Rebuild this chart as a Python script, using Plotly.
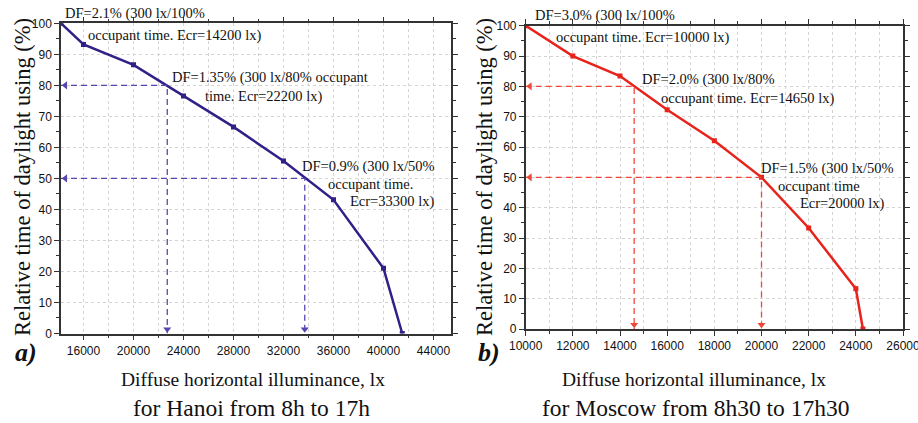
import plotly.graph_objects as go

W, H = 918, 423

# ---- data: Hanoi (a) ----
hanoi_x = [14200, 16000, 20000, 24000, 28000, 32000, 36000, 40000, 41500]
hanoi_y = [100, 93.2, 86.6, 76.6, 66.6, 55.6, 43.1, 21.0, 0]
hanoi_guide_x = [22700, 33700]
hanoi_guide_y = [80, 50]
hanoi_xrange = [14200, 45400]

# ---- data: Moscow (b) ----
moscow_x = [10000, 12000, 14000, 16000, 18000, 20000, 22000, 24000, 24300]
moscow_y = [100, 90, 83.4, 72.3, 62.1, 50, 33.3, 13.3, 0]
moscow_guide_x = [14600, 20000]
moscow_guide_y = [80, 50]
moscow_xrange = [10000, 26000]

yrange = [0, 100]

hanoi_notes = [
    ("DF=2.1% (300 lx/100%", 14344, 103.3),
    ("occupant time. Ecr=14200 lx)", 16160, 96.2),
    ("DF=1.35% (300 lx/80% occupant", 22904, 82.4),
    ("time. Ecr=22200 lx)", 25520, 76.3),
    ("DF=0.9% (300 lx/50%", 33304, 53.8),
    ("occupant time.", 35360, 48.2),
    ("Ecr=33300 lx)", 37120, 42.5),
]
moscow_notes = [
    ("DF=3.0% (300 lx/100%", 10297, 103.5),
    ("occupant time. Ecr=10000 lx)", 11215, 96.0),
    ("DF=2.0% (300 lx/80%", 14856, 82.1),
    ("occupant time. Ecr=14650 lx)", 15663, 76.1),
    ("DF=1.5% (300 lx/50%", 19911, 53.0),
    ("occupant time", 20633, 47.2),
    ("Ecr=20000 lx)", 21555, 41.4),
]

C_H = "#302088"
C_H_D = "#5646AE"
C_M = "#E8231B"
C_M_D = "#F0463A"

fig = go.Figure()


def add_panel(xs, ys, gx, gy, xr, col, dcol, xa, ya):
    fig.add_trace(go.Scatter(x=xs, y=ys, mode="lines+markers", xaxis=xa, yaxis=ya,
                             line=dict(color=col, width=2.5),
                             marker=dict(symbol="square", size=5, color=col),
                             showlegend=False))
    xoff = (xr[1] - xr[0]) * 0.011
    yoff = (yrange[1] - yrange[0]) * 0.014
    for x, y in zip(gx, gy):
        fig.add_trace(go.Scatter(x=[xr[0], x, x], y=[y, y, yrange[0]], mode="lines",
                                 xaxis=xa, yaxis=ya,
                                 line=dict(color=dcol, width=1.3, dash="6px,4px"),
                                 showlegend=False))
        fig.add_trace(go.Scatter(x=[xr[0] + xoff], y=[y], mode="markers", xaxis=xa, yaxis=ya,
                                 marker=dict(symbol="triangle-left", size=7, color=dcol),
                                 showlegend=False, cliponaxis=False))
        fig.add_trace(go.Scatter(x=[x], y=[yrange[0] + yoff], mode="markers", xaxis=xa, yaxis=ya,
                                 marker=dict(symbol="triangle-down", size=7, color=dcol),
                                 showlegend=False, cliponaxis=False))


add_panel(hanoi_x, hanoi_y, hanoi_guide_x, hanoi_guide_y, hanoi_xrange, C_H, C_H_D, "x", "y")
add_panel(moscow_x, moscow_y, moscow_guide_x, moscow_guide_y, moscow_xrange, C_M, C_M_D, "x2", "y2")

AX = "#333333"
GRID = "#d4d4d4"
tickfont = dict(family="Liberation Sans, Arial", size=12, color="#111")


def xaxis(rng, dom, anchor, tick0, dtick, mdtick):
    return dict(range=rng, domain=dom, anchor=anchor, showline=True, linecolor=AX, linewidth=1.5,
                mirror="allticks", ticks="outside", ticklen=5, tickwidth=1.3, tickcolor=AX,
                tick0=tick0, dtick=dtick, tickformat="d", showgrid=True, gridcolor=GRID,
                griddash="dot", gridwidth=1, zeroline=False, tickfont=tickfont, automargin=False,
                ticklabeloverflow="allow",
                minor=dict(dtick=mdtick, ticks="outside", ticklen=3, tickcolor=AX, tickwidth=1.2,
                           showgrid=True, gridcolor=GRID, griddash="dot", gridwidth=1))


def yaxis(dom, anchor):
    return dict(range=yrange, domain=dom, anchor=anchor, showline=True, linecolor=AX, linewidth=1.5,
                mirror="allticks", ticks="outside", ticklen=5, tickwidth=1.3, tickcolor=AX,
                tick0=0, dtick=10, showgrid=True, gridcolor=GRID, griddash="dot", gridwidth=1,
                zeroline=False, tickfont=tickfont, automargin=False, ticklabeloverflow="allow",
                minor=dict(dtick=5, ticks="outside", ticklen=3, tickcolor=AX, tickwidth=1.2,
                           showgrid=False))


fig.update_layout(
    width=W, height=H, margin=dict(l=0, r=0, t=0, b=0, autoexpand=False),
    paper_bgcolor="white", plot_bgcolor="white",
    xaxis=xaxis(hanoi_xrange, [61 / W, 451 / W], "y", 16000, 4000, 2000),
    yaxis=yaxis([1 - 333.5 / H, 1 - 23.3 / H], "x"),
    xaxis2=xaxis(moscow_xrange, [525.7 / W, 903 / W], "y2", 10000, 2000, 1000),
    yaxis2=yaxis([1 - 329 / H, 1 - 25.7 / H], "x2"),
)

serif = "Liberation Serif, Times New Roman"
anns = []


def note(txt, x, y, xr, xa, ya):
    return dict(text=txt, x=(x - xr[0]) / (xr[1] - xr[0]), y=(y - yrange[0]) / (yrange[1] - yrange[0]),
                xref=xa + " domain", yref=ya + " domain", xanchor="left", yanchor="middle",
                showarrow=False, font=dict(family=serif, size=14.5, color="#111"))


for txt, x, y in hanoi_notes:
    anns.append(note(txt, x, y, hanoi_xrange, "x", "y"))
for txt, x, y in moscow_notes:
    anns.append(note(txt, x, y, moscow_xrange, "x2", "y2"))


def pa(text, px, py, size, angle=0, bold_italic=False):
    t = f"<b><i>{text}</i></b>" if bold_italic else text
    return dict(text=t, x=px / W, y=1 - py / H, xref="paper", yref="paper", xanchor="center",
                yanchor="middle", showarrow=False, textangle=angle,
                font=dict(family=serif, size=size, color="#111"))


anns += [
    pa("Relative time of daylight using (%)", 22, 177, 22.5, -90),
    pa("Relative time of daylight using (%)", 484, 177, 22.5, -90),
    pa("Diffuse horizontal illuminance, lx", 253, 379, 19.5),
    pa("Diffuse horizontal illuminance, lx", 694, 379, 19.5),
    pa("for Hanoi from 8h to 17h", 251, 408, 23.5),
    pa("for Moscow from 8h30 to 17h30", 695, 408, 23.5),
    pa("a)", 26, 352, 26, bold_italic=True),
    pa("b)", 489, 352, 26, bold_italic=True),
]
fig.update_layout(annotations=anns)

fig.write_html("out.html", config={"displayModeBar": False},
               post_script="document.body.style.margin='0px';")
